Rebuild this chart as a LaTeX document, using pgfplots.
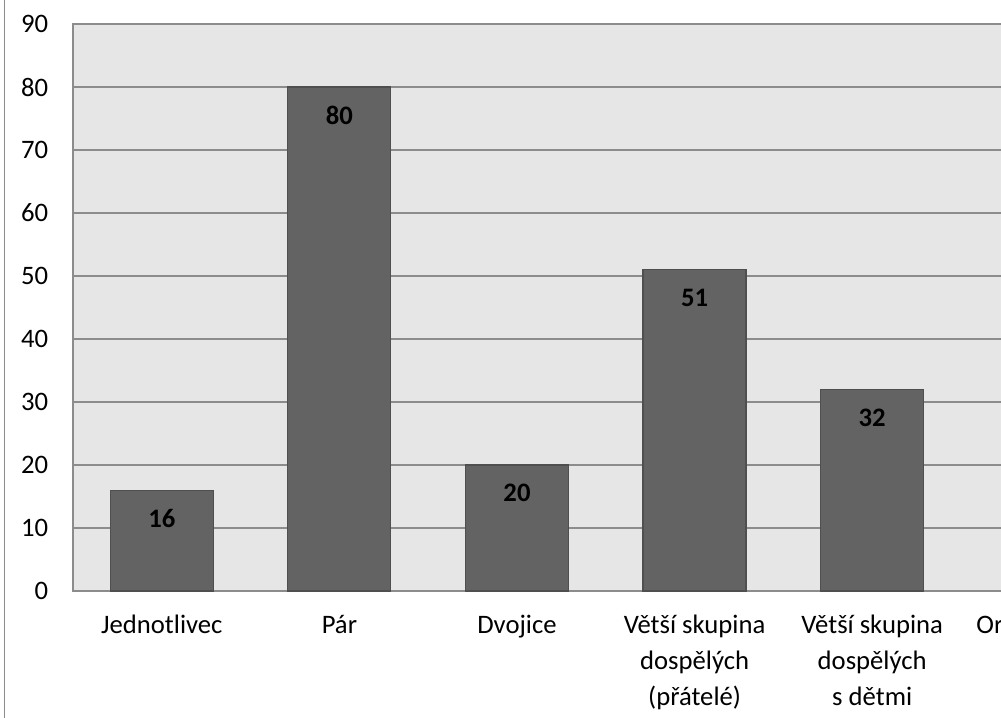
\documentclass[border=0pt]{standalone}
\usepackage{pgfplots}
\pgfplotsset{compat=1.18}
\usepackage{fontspec}
\setmainfont{Carlito}
\definecolor{plotbg}{HTML}{E6E6E6}
\definecolor{gridc}{HTML}{8C8C8C}
\definecolor{barfill}{HTML}{636363}
\definecolor{baredge}{HTML}{4F4F4F}
\newcommand{\st}{\rule{0pt}{20pt}}
\begin{document}
\begin{tikzpicture}
\path[use as bounding box] (0,0) rectangle (750.75pt,538.5pt);
\clip (0,0) rectangle (750.75pt,538.5pt);
\draw[gridc, line width=0.9pt] (3.4pt,-5pt) -- (3.4pt,545pt);
\begin{axis}[
  at={(54.75pt,95.25pt)}, anchor=south west,
  scale only axis,
  width=799.2pt, height=425.25pt,
  xmin=-0.5, xmax=5.5, ymin=0, ymax=90,
  /pgf/number format/assume math mode=true,
  axis background/.style={fill=plotbg},
  axis line style={gridc, line width=0.9pt},
  ytick={0,10,...,90},
  ymajorgrids, major grid style={gridc, line width=0.9pt},
  major tick length=0pt,
  xtick={0,1,2,3,4,5},
  xticklabels={\st Jednotlivec,\st Pár,\st Dvojice,{\st Větší skupina\\dospělých\\(přátelé)},{\st Větší skupina\\dospělých\\s dětmi},{\st Organizovaná}},
  yticklabel style={font=\fontsize{20}{24}\selectfont, inner sep=0pt, anchor=east, xshift=-18.5pt},
  xticklabel style={font=\fontsize{20}{27}\selectfont, align=center, inner sep=0pt, anchor=north, yshift=-11.5pt},
  clip=false,
]
\addplot[ybar, bar width=77.25pt, fill=barfill, draw=baredge, line width=0.9pt,
  nodes near coords,
  every node near coord/.append style={font=\bfseries\fontsize{20}{24}\selectfont, anchor=center, yshift=-21pt, text=black}]
  coordinates {(0,16) (1,80) (2,20) (3,51) (4,32)};
\end{axis}
\end{tikzpicture}
\end{document}
